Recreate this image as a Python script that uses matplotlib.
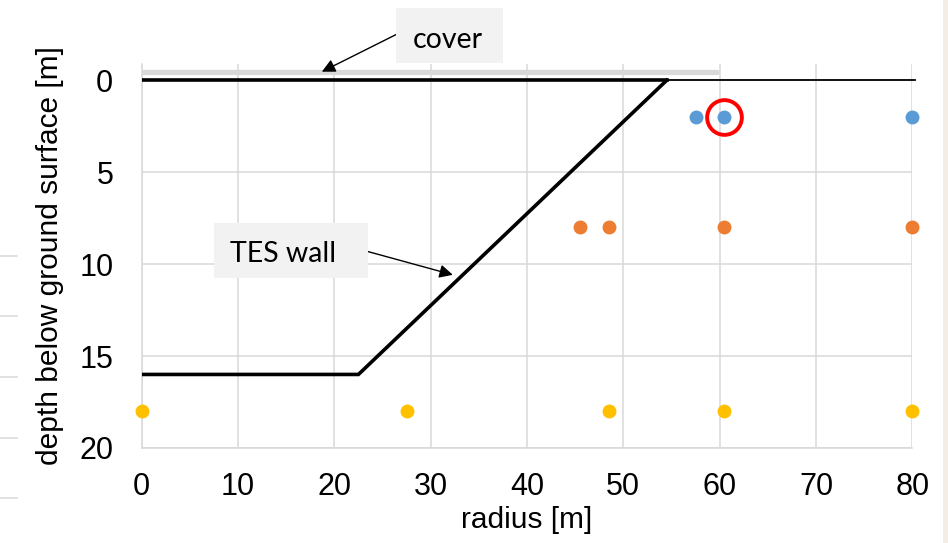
import numpy as np
import matplotlib.pyplot as plt
from matplotlib.patches import Rectangle

# TES wall outline (radius, depth)
wall_r = [0, 22.5, 54.5, 0]
wall_d = [16, 16, 0, 0]
# ground surface line beyond the pit
ground_r = [54.5, 80.3]
ground_d = [0, 0]
# cover
cover_r = [0, 59.7]
cover_d = [-0.45, -0.45]

# sensor positions
blue_r = [57.5, 60.5, 80]
blue_d = [2, 2, 2]
orange_r = [45.5, 48.5, 60.5, 80]
orange_d = [8, 8, 8, 8]
yellow_r = [0, 27.5, 48.5, 60.5, 80]
yellow_d = [18, 18, 18, 18, 18]

highlight = (60.5, 2)

xticks = [0, 10, 20, 30, 40, 50, 60, 70, 80]
yticks = [0, 5, 10, 15, 20]

plt.rcParams['font.family'] = ['Liberation Sans', 'DejaVu Sans']

fig = plt.figure(figsize=(9.48, 5.43), dpi=100)
ax = fig.add_axes([0.1495, 0.175, 0.8128, 0.707])

grid_c = '#d9d9d9'
ax.set_xlim(0, 80)
ax.set_ylim(20, -0.886)
ax.set_xticks(xticks)
ax.set_yticks(yticks)
ax.grid(True, color=grid_c, linewidth=1.1)
ax.set_axisbelow(True)
for s in ['top', 'right']:
    ax.spines[s].set_visible(False)
for s in ['left', 'bottom']:
    ax.spines[s].set_color(grid_c)
    ax.spines[s].set_linewidth(1.1)
ax.tick_params(length=0, labelsize=22)
ax.tick_params(axis='y', pad=20.5)
ax.tick_params(axis='x', pad=17)

ax.plot(cover_r, cover_d, color='#d9d9d9', linewidth=3.8, solid_capstyle='round', zorder=2)
ax.plot(wall_r[:3], wall_d[:3], color='black', linewidth=2.6, solid_joinstyle='miter', zorder=3)
ax.plot([wall_r[3], wall_r[2]], [wall_d[3], wall_d[2]], color='black', linewidth=2.6, zorder=3)
ax.plot(ground_r, ground_d, color='black', linewidth=1.3, zorder=3, clip_on=False)

ms = 9
ax.plot(blue_r, blue_d, 'o', color='#5b9bd5', markersize=ms, clip_on=False, zorder=4)
ax.plot(orange_r, orange_d, 'o', color='#ed7d31', markersize=ms, clip_on=False, zorder=4)
ax.plot(yellow_r, yellow_d, 'o', color='#ffc000', markersize=ms, clip_on=False, zorder=4)
ax.plot(*highlight, 'o', markersize=25, markerfacecolor='none',
        markeredgecolor='#ff0000', markeredgewidth=2.8, zorder=5)

ax.set_xlabel('radius [m]', fontsize=21.5, labelpad=3)
ax.set_ylabel('depth below ground surface [m]', fontsize=21.5, labelpad=11)

# callout boxes
ax.add_patch(Rectangle((26.4, -3.93), 11.07, 3.01, facecolor='#f2f2f2',
                       edgecolor='none', clip_on=False, zorder=6))
ax.add_patch(Rectangle((7.5, 7.77), 15.96, 2.99, facecolor='#f2f2f2',
                       edgecolor='none', zorder=6))
ax.text(31.76, -2.2, 'cover', fontsize=20.5, family=['Lato', 'DejaVu Sans'],
        ha='center', va='center', zorder=7)
ax.text(14.7, 9.45, 'TES wall', fontsize=20.5, family=['Lato', 'DejaVu Sans'],
        ha='center', va='center', zorder=7)
arrow = dict(arrowstyle='-|>', color='black', linewidth=1.0, mutation_scale=20,
             shrinkA=0, shrinkB=0)
ax.annotate('', xy=(18.7, -0.47), xytext=(26.63, -2.55), arrowprops=arrow,
            annotation_clip=False)
ax.annotate('', xy=(32.3, 10.58), xytext=(22.83, 9.22), arrowprops=arrow)

# cropped-off marks at the left edge and strip at the right edge
for yp in [255.7, 316.3, 377, 437.7, 498.3]:
    fig.add_artist(plt.Line2D([0, 17 / 948], [1 - yp / 543] * 2, color=grid_c, linewidth=1.1))
fig.add_artist(plt.Rectangle((943 / 948, 0), 5 / 948, 1, color='#f4ede6', linewidth=0))

fig.savefig('out.png', dpi=100)
